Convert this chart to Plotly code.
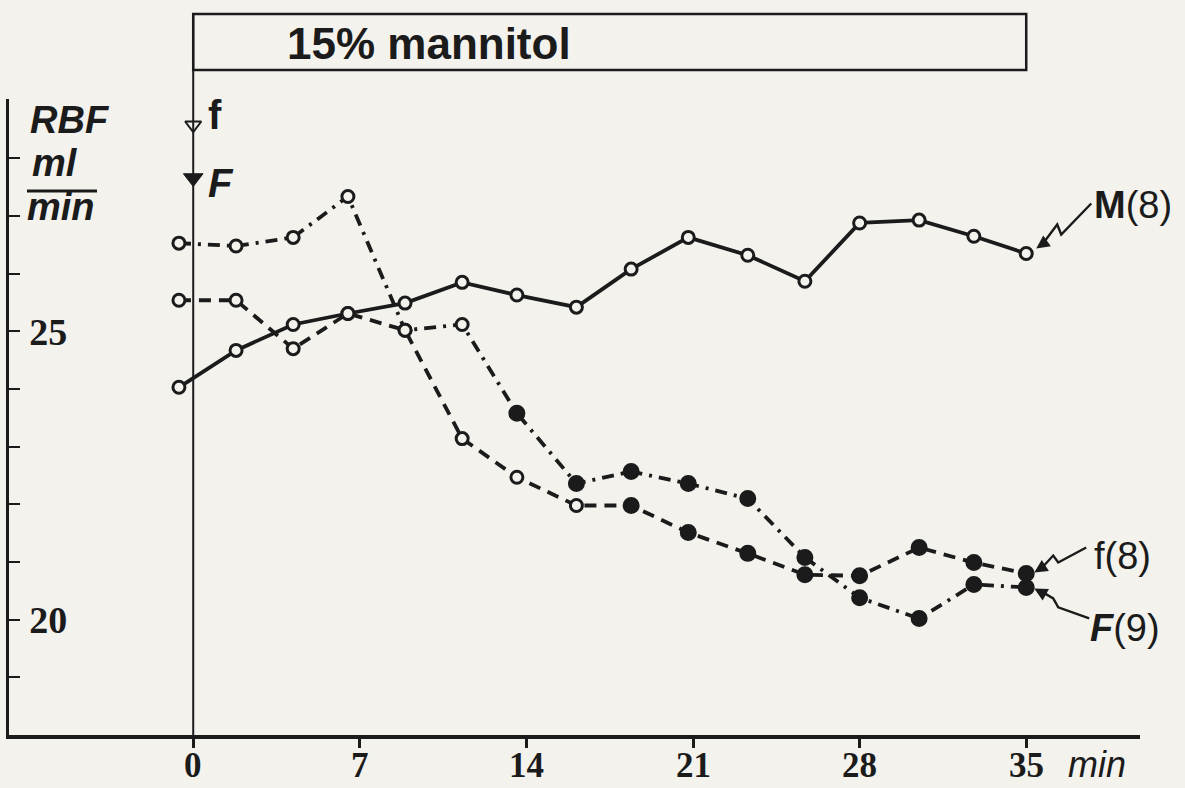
import plotly.graph_objects as go

# ---------------- data ----------------
minutes = [-0.6, 1.8, 4.2, 6.5, 8.9, 11.3, 13.6, 16.1, 18.4, 20.8, 23.3, 25.7, 28.0, 30.5, 32.8, 35.0]
rbf_M = [24.03, 24.67, 25.12, 25.31, 25.49, 25.85, 25.63, 25.42, 26.08, 26.63, 26.32, 25.87, 26.88, 26.93, 26.65, 26.35]
rbf_f = [25.54, 25.54, 24.70, 25.31, 25.02, 23.14, 22.47, 21.98, 21.98, 21.51, 21.15, 20.78, 20.76, 21.25, 20.99, 20.80]
rbf_F = [26.53, 26.48, 26.63, 27.34, 25.02, 25.12, 23.58, 22.36, 22.57, 22.36, 22.10, 21.08, 20.38, 20.02, 20.61, 20.56]
f_open_count = 8
F_open_count = 6
x_tick_vals = [0, 7, 14, 21, 28, 35]
x_tick_text = ["0", "7", "14", "21", "28", "35"]
y_tick_vals = [19, 20, 21, 22, 23, 24, 25, 26, 27, 28]
y_tick_text = ["", "20", "", "", "", "", "25", "", "", ""]
infusion_start, infusion_end = 0, 35
label_M, label_f, label_F = "<b>M</b>(8)", "f(8)", "<b><i>F</i></b>(9)"

# ---------------- layout geometry ----------------
W, H = 1185, 788
L, R, T, B = 9, 45, 99, 53
XR = [-7.74, 39.78]
YR = [18.0, 29.03]
BG = "#f3f2ed"
INK = "#1b1b1b"
SERIF = "Liberation Serif"
SANS = "Liberation Sans"


def d2p(x, y):
    px = L + (x - XR[0]) / (XR[1] - XR[0]) * (W - L - R)
    py = T + (YR[1] - y) / (YR[1] - YR[0]) * (H - T - B)
    return px, py


def p2d(px, py):
    x = XR[0] + (px - L) / (W - L - R) * (XR[1] - XR[0])
    y = YR[1] - (py - T) / (H - T - B) * (YR[1] - YR[0])
    return x, y


def pap_x(px):
    return (px - L) / (W - L - R)


def pap_y(py):
    return (H - B - py) / (H - T - B)


fig = go.Figure()

LW = 3.8
series = [
    (rbf_M, "solid", 0),
    (rbf_f, "12px,8px", f_open_count),
    (rbf_F, "12px,7px,3px,7px", F_open_count),
]
# lines first
for vals, dash, _ in series:
    fig.add_trace(go.Scatter(x=minutes, y=vals, mode="lines",
                             line=dict(color=INK, width=LW, dash=dash),
                             hoverinfo="skip", showlegend=False))
# markers on top
for idx, (vals, dash, n_open) in enumerate(series):
    if idx == 0:
        n_open = len(vals)
    colors = [BG] * n_open + [INK] * (len(vals) - n_open)
    sizes = [12] * n_open + [14] * (len(vals) - n_open)
    fig.add_trace(go.Scatter(x=minutes, y=vals, mode="markers",
                             marker=dict(symbol="circle", color=colors, size=sizes, opacity=1,
                                         line=dict(color=INK, width=3)),
                             hoverinfo="skip", showlegend=False))

# onset triangles on the infusion line
tri_f_y = p2d(0, 125)[1]
tri_F_y = p2d(0, 178)[1]
fig.add_trace(go.Scatter(x=[infusion_start], y=[tri_f_y], mode="markers",
                         marker=dict(symbol="triangle-down", size=14, color=BG, opacity=1,
                                     line=dict(color=INK, width=2)),
                         hoverinfo="skip", showlegend=False, cliponaxis=False))
fig.add_trace(go.Scatter(x=[infusion_start], y=[tri_F_y], mode="markers",
                         marker=dict(symbol="triangle-down", size=17, color=INK, opacity=1,
                                     line=dict(color=INK, width=1)),
                         hoverinfo="skip", showlegend=False, cliponaxis=False))

shapes = []
# infusion box and start line
shapes.append(dict(type="rect", xref="x", yref="paper", x0=infusion_start, x1=infusion_end,
                   y0=pap_y(70), y1=pap_y(14), line=dict(color=INK, width=2.5)))
shapes.append(dict(type="line", xref="x", yref="paper", x0=infusion_start, x1=infusion_start,
                   y0=0, y1=pap_y(14), line=dict(color=INK, width=2)))
# fraction bar of the y unit
shapes.append(dict(type="line", xref="paper", yref="paper", x0=pap_x(27), x1=pap_x(97),
                   y0=pap_y(191), y1=pap_y(191), line=dict(color=INK, width=3)))

annotations = []
annotations.append(dict(text="<b>15% mannitol</b>", xref="x", yref="paper", x=infusion_start,
                        xanchor="left", xshift=92, y=pap_y(44), yanchor="middle",
                        showarrow=False, font=dict(family=SANS, size=44, color=INK)))
annotations.append(dict(text="<b>f</b>", xref="x", yref="y", x=infusion_start, y=tri_f_y,
                        xanchor="left", xshift=13, yshift=10, showarrow=False,
                        font=dict(family=SANS, size=40, color=INK)))
annotations.append(dict(text="<b><i>F</i></b>", xref="x", yref="y", x=infusion_start, y=tri_F_y,
                        xanchor="left", xshift=13, yshift=-5, showarrow=False,
                        font=dict(family=SANS, size=40, color=INK)))
# y unit label
annotations.append(dict(text="<b><i>RBF</i></b>", xref="paper", yref="paper", x=pap_x(28),
                        xanchor="left", y=pap_y(120), yanchor="middle", showarrow=False,
                        font=dict(family=SANS, size=38, color=INK)))
annotations.append(dict(text="<b><i>ml</i></b>", xref="paper", yref="paper", x=pap_x(30),
                        xanchor="left", y=pap_y(163), yanchor="middle", showarrow=False,
                        font=dict(family=SANS, size=38, color=INK)))
annotations.append(dict(text="<b><i>min</i></b>", xref="paper", yref="paper", x=pap_x(25),
                        xanchor="left", y=pap_y(207), yanchor="middle", showarrow=False,
                        font=dict(family=SANS, size=38, color=INK)))
# x tick labels (placed close under the axis, as in the reference)
for v, t in zip(x_tick_vals, x_tick_text):
    annotations.append(dict(text=f"<b>{t}</b>", xref="x", yref="paper", x=v, xanchor="center",
                            y=pap_y(765), yanchor="middle", showarrow=False,
                            font=dict(family=SERIF, size=35, color=INK)))
# x unit
annotations.append(dict(text="<i>min</i>", xref="paper", yref="paper", x=pap_x(1066),
                        xanchor="left", y=pap_y(764), yanchor="middle", showarrow=False,
                        font=dict(family=SANS, size=36, color=INK)))

# end labels with zig-zag pointers
end_specs = [
    (label_M, rbf_M[-1], (10, -5), [(55, -45), (25, -14), (21, -24), (6, -4)], (1092, 205)),
    (label_f, rbf_f[-1], (8, -1), [(52, -25), (24, -10), (19, -17), (7, -4)], (1092, 556)),
    (label_F, rbf_F[-1], (8, 1), [(55, 30), (24, 19), (19, 10), (7, 3)], (1088, 628)),
]
for text, yv, tip_off, zz, lab in end_specs:
    tx, ty = d2p(minutes[-1], yv)
    tx += tip_off[0]
    ty += tip_off[1]
    pts = [p2d(tx + dx, ty + dy) for dx, dy in zz]
    path = "M " + " L ".join(f"{x},{y}" for x, y in pts)
    shapes.append(dict(type="path", xref="x", yref="y", path=path,
                       line=dict(color=INK, width=2.4)))
    tipx, tipy = p2d(tx, ty)
    annotations.append(dict(text="", xref="x", yref="y", x=tipx, y=tipy,
                            ax=zz[-1][0] + 4, ay=zz[-1][1] + (-3 if zz[-1][1] < 0 else 3),
                            axref="pixel", ayref="pixel",
                            showarrow=True, arrowhead=2, arrowsize=1.1, arrowwidth=2.4,
                            arrowcolor=INK))
    annotations.append(dict(text=text, xref="paper", yref="paper", x=pap_x(lab[0]), xanchor="left",
                            y=pap_y(lab[1]), yanchor="middle", showarrow=False,
                            font=dict(family=SANS, size=38, color=INK)))

fig.update_layout(
    width=W, height=H,
    margin=dict(l=L, r=R, t=T, b=B, pad=0, autoexpand=False),
    paper_bgcolor=BG, plot_bgcolor=BG,
    showlegend=False,
    shapes=shapes, annotations=annotations,
    xaxis=dict(range=XR, showline=True, linewidth=3.5, linecolor=INK, mirror=False,
               ticks="outside", ticklen=9, tickwidth=2.5, tickcolor=INK,
               tickvals=x_tick_vals, showticklabels=False, automargin=False,
               showgrid=False, zeroline=False, fixedrange=True),
    yaxis=dict(range=YR, showline=True, linewidth=2.5, linecolor=INK,
               ticks="inside", ticklen=11, tickwidth=2, tickcolor=INK,
               tickvals=y_tick_vals, ticktext=y_tick_text, automargin=False,
               ticklabelposition="inside", ticklabelstandoff=14,
               tickfont=dict(family=SERIF, size=38, color=INK, weight="bold"),
               showgrid=False, zeroline=False, fixedrange=True),
)

fig.write_html("out.html")
